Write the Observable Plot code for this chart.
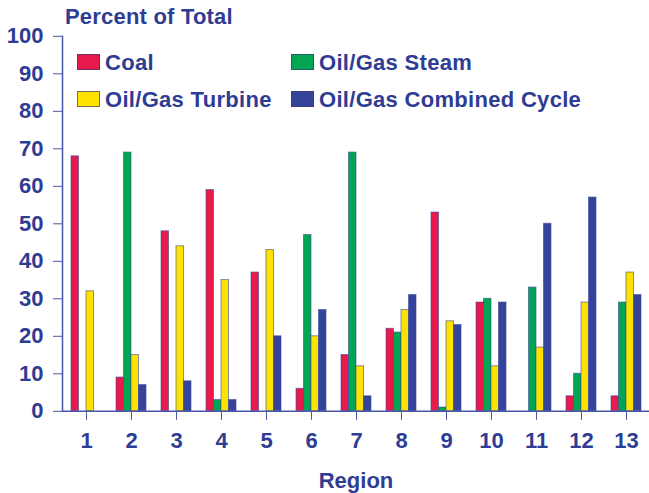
<!DOCTYPE html>
<html>
<head>
<meta charset="utf-8">
<script src="https://cdn.jsdelivr.net/npm/d3@7"></script>
<script src="https://cdn.jsdelivr.net/npm/@observablehq/plot@0.6"></script>
<style>
  html, body { margin: 0; padding: 0; background: #ffffff; }
  #wrap { position: relative; width: 649px; height: 493px; overflow: hidden;
          font-family: "Liberation Sans", Arial, sans-serif; font-weight: bold; color: #2F3C93; }
  #title { position: absolute; left: 65px; top: 6px; font-size: 22px; line-height: 22px; white-space: nowrap; letter-spacing: 0.2px; }
  .leg { position: absolute; font-size: 22px; line-height: 22px; white-space: nowrap; letter-spacing: 0.3px; }
  .sw { display: inline-block; width: 21px; height: 14px; margin-right: 5px; border: 1px solid rgba(60,60,110,0.7); vertical-align: baseline; }
</style>
</head>
<body>
<div id="wrap">
  <div id="chart"></div>
  <div id="title"></div>
  <div id="legend"></div>
</div>
<script>
const regions = ["1","2","3","4","5","6","7","8","9","10","11","12","13"];
const series = ["Coal", "Oil/Gas Steam", "Oil/Gas Turbine", "Oil/Gas Combined Cycle"];
const colors = ["#E8194B", "#00A651", "#FFE200", "#36439A"];
const coal     = [68,  9, 48, 59, 37,  6, 15, 22, 53, 29,  0,  4,  4];
const steam    = [ 0, 69,  0,  3,  0, 47, 69, 21,  1, 30, 33, 10, 29];
const turbine  = [32, 15, 44, 35, 43, 20, 12, 27, 24, 12, 17, 29, 37];
const combined = [ 0,  7,  8,  3, 20, 27,  4, 31, 23, 29, 50, 57, 31];
const yTicks = [0, 10, 20, 30, 40, 50, 60, 70, 80, 90, 100];
const yTitle = "Percent of Total";
const xTitle = "Region";

const seriesValues = [coal, steam, turbine, combined];
const table = series.flatMap((s, si) => regions.map((r, ri) => ({region: r, series: s, si, value: seriesValues[si][ri]})));

const navy = "#2F3C93";
const axisLine = "#4A56A6";
const barW = 7.5;

const chart = Plot.plot({
  width: 649,
  height: 493,
  marginLeft: 62,
  marginRight: 0,
  marginTop: 35.8,
  marginBottom: 82.2,
  style: {fontFamily: "Liberation Sans, Arial, sans-serif", fontSize: "22px", fontWeight: "bold", color: navy, background: "transparent", overflow: "visible"},
  x: {type: "band", domain: regions, range: [60, 652], paddingInner: 0.339, paddingOuter: 0.187, align: 0.5},
  y: {domain: [0, 100]},
  color: {domain: series, range: colors},
  marks: [
    ...series.map((s, si) => Plot.barY(table.filter(d => d.si === si), {
      x: "region", y: "value", fill: "series",
      insetLeft: si * barW, insetRight: (3 - si) * barW,
      stroke: "#3B4897", strokeWidth: 1, strokeOpacity: 0.6
    })),
    Plot.ruleY([0], {stroke: axisLine, strokeWidth: 1.5}),
    Plot.frame({anchor: "left", stroke: axisLine, strokeWidth: 1.5}),
    Plot.axisY({ticks: yTicks, tickSize: 9, tickPadding: 10, label: null, stroke: axisLine, fill: navy, fontSize: 22, fontWeight: "bold"}),
    Plot.axisX({tickSize: 9, tickPadding: 12, label: xTitle, labelAnchor: "center", labelOffset: 77, stroke: axisLine, fill: navy, fontSize: 22, fontWeight: "bold"})
  ]
});
document.getElementById("chart").appendChild(chart);
document.getElementById("title").textContent = yTitle;

// legend (2 columns x 2 rows)
const legend = document.getElementById("legend");
const colX = [77, 291];
const rowTop = [52, 89];
series.forEach((s, i) => {
  const item = document.createElement("div");
  item.className = "leg";
  item.style.left = colX[i % 2] + "px";
  item.style.top = rowTop[Math.floor(i / 2)] + "px";
  const sw = document.createElement("span");
  sw.className = "sw";
  sw.style.background = colors[i];
  item.appendChild(sw);
  item.appendChild(document.createTextNode(s));
  legend.appendChild(item);
});
</script>
</body>
</html>
